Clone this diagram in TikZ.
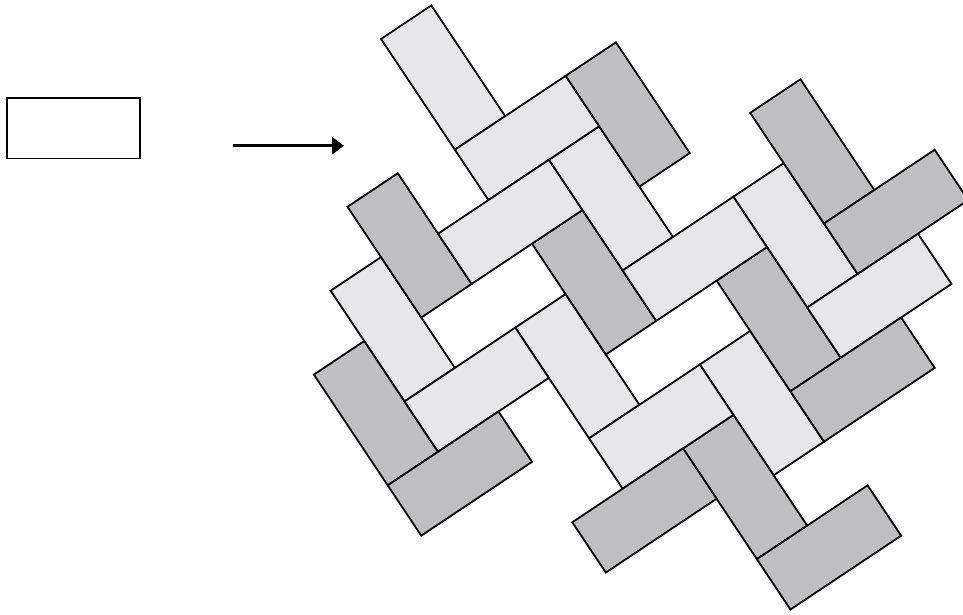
\documentclass[tikz,border=0pt]{standalone}
\usetikzlibrary{arrows.meta}
\definecolor{hellgrau}{RGB}{230,231,232}
\definecolor{dunkelgrau}{RGB}{190,191,193}
\tikzset{
  hell/.style={draw=black, fill=hellgrau, line width=1.8pt},
  dunkel/.style={draw=black, fill=dunkelgrau, line width=1.8pt},
}
\begin{document}
\begin{tikzpicture}[x=1pt, y=1pt, >={Triangle[length=12pt, width=17pt]}]
\def\tilew{60.5}   % short side
\def\tilel{133.1}  % long side
\useasboundingbox (0,0) rectangle (963,614);
% single tile
\node[draw=black, line width=1.8pt, inner sep=0pt,
      minimum width=\tilel pt, minimum height=\tilew pt] (ziegel) at (73.4,485.8) {};
% arrow
\coordinate (pfeilA) at (233,468.3);
\coordinate (pfeilB) at (344,468.3);
\draw[->, line width=3pt] (pfeilA) -- (pfeilB);
% pattern: origin = top corner of the first tile, tilted by atan(2/3)
\begin{scope}[shift={(381,575)}, rotate=33.69]
% steep tiles, light
\foreach \n/\m in {0/0, 0/3, 1/1, 1/3, 2/1, 2/3}
  \draw[hell] ({\n*\tilel-\m*\tilew}, {-(\n*\tilel+\m*\tilew)}) rectangle ++(\tilew,-\tilel);
% steep tiles, dark
\foreach \n/\m in {0/2, 0/4, 1/0, 1/2, 2/0, 2/2, 2/4}
  \draw[dunkel] ({\n*\tilel-\m*\tilew}, {-(\n*\tilel+\m*\tilew)}) rectangle ++(\tilew,-\tilel);
% flat tiles, light
\foreach \n/\m in {0/0, 0/1, 0/3, 1/1, 1/3, 2/1}
  \draw[hell] ({\n*\tilel-\m*\tilew}, {-((\n+1)*\tilel+\m*\tilew)}) rectangle ++(\tilel,-\tilew);
% flat tiles, dark
\foreach \n/\m in {0/4, 1/4, 2/0, 2/2, 2/4}
  \draw[dunkel] ({\n*\tilel-\m*\tilew}, {-((\n+1)*\tilel+\m*\tilew)}) rectangle ++(\tilel,-\tilew);
\end{scope}
\end{tikzpicture}
\end{document}
